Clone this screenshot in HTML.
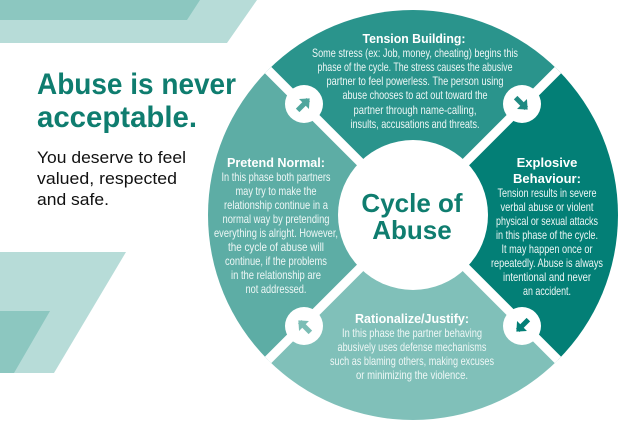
<!DOCTYPE html>
<html><head><meta charset="utf-8"><style>
html,body{margin:0;padding:0;background:#fff;width:624px;height:423px;overflow:hidden}
svg{display:block;position:absolute;left:0;top:0}
.b{font-family:"Liberation Sans",sans-serif;font-weight:bold}
.n{font-family:"Liberation Sans Narrow","Liberation Sans",sans-serif;fill:#eef7f6;font-size:12px}
</style></head><body>
<svg width="624" height="423" viewBox="0 0 624 423" xmlns="http://www.w3.org/2000/svg">
<polygon points="0,0 257,0 227,43 0,43" fill="#b7dcd8"/>
<polygon points="0,0 200,0 187,20 0,20" fill="#8cc7c0"/>
<polygon points="0,252 126,252 54,373 0,373" fill="#b7dcd8"/>
<polygon points="0,311 50,311 14,373 0,373" fill="#8cc7c0"/>
<text class="b" x="37" y="94" font-size="30" fill="#0f7d6f" textLength="199" lengthAdjust="spacingAndGlyphs">Abuse is never</text>
<text class="b" x="37" y="127" font-size="30" fill="#0f7d6f" textLength="160" lengthAdjust="spacingAndGlyphs">acceptable.</text>
<text x="37" y="163" font-family="Liberation Sans,sans-serif" font-size="17" fill="#111" textLength="149" lengthAdjust="spacingAndGlyphs">You deserve to feel</text>
<text x="37" y="184" font-family="Liberation Sans,sans-serif" font-size="17" fill="#111" textLength="140" lengthAdjust="spacingAndGlyphs">valued, respected</text>
<text x="37" y="205" font-family="Liberation Sans,sans-serif" font-size="17" fill="#111" textLength="72" lengthAdjust="spacingAndGlyphs">and safe.</text>
<g transform="translate(413,215)">
<clipPath id="c"><circle r="205"/></clipPath>
<g clip-path="url(#c)">
<polygon points="0,0 -300,-300 300,-300" fill="#2a948c"/>
<polygon points="0,0 300,-300 300,300" fill="#037f76"/>
<polygon points="0,0 300,300 -300,300" fill="#80c0b9"/>
<polygon points="0,0 -300,300 -300,-300" fill="#5dada5"/>
<line x1="-300" y1="-300" x2="300" y2="300" stroke="#fff" stroke-width="9"/>
<line x1="300" y1="-300" x2="-300" y2="300" stroke="#fff" stroke-width="9"/>
</g>
<circle r="75" fill="#fff"/>
<g fill="#fff">
<circle cx="-109" cy="-111" r="19"/><circle cx="109" cy="-111" r="19"/>
<circle cx="109" cy="111" r="19"/><circle cx="-109" cy="111" r="19"/>
</g>
<g stroke-width="5" fill="none">
<g transform="translate(-109,-111) rotate(-45)" stroke="#4fa69d"><line x1="-9" y1="0" x2="6" y2="0"/><polyline points="0,-7 8,0 0,7" fill="#4fa69d" stroke="none"/></g>
<g transform="translate(109,-111) rotate(45)" stroke="#1f8a82"><line x1="-9" y1="0" x2="6" y2="0"/><polyline points="0,-7 8,0 0,7" fill="#1f8a82" stroke="none"/></g>
<g transform="translate(109,111) rotate(135)" stroke="#037f76"><line x1="-9" y1="0" x2="6" y2="0"/><polyline points="0,-7 8,0 0,7" fill="#037f76" stroke="none"/></g>
<g transform="translate(-109,111) rotate(-135)" stroke="#7bbdb5"><line x1="-9" y1="0" x2="6" y2="0"/><polyline points="0,-7 8,0 0,7" fill="#7bbdb5" stroke="none"/></g>
</g>
</g>
<text class="b" x="412" y="212" text-anchor="middle" font-size="26" fill="#0f7d6f">Cycle of</text>
<text class="b" x="412" y="239" text-anchor="middle" font-size="26" fill="#0f7d6f">Abuse</text>
<g text-anchor="middle">
<text class="b" x="414" y="43" font-size="13" fill="#fff" textLength="103" lengthAdjust="spacingAndGlyphs">Tension Building:</text>
<text class="n" x="415" y="57" textLength="206" lengthAdjust="spacingAndGlyphs">Some stress (ex: Job, money, cheating) begins this</text>
<text class="n" x="415" y="71" textLength="195" lengthAdjust="spacingAndGlyphs">phase of the cycle. The stress causes the abusive</text>
<text class="n" x="415" y="85" textLength="177" lengthAdjust="spacingAndGlyphs">partner to feel powerless.  The person using</text>
<text class="n" x="415" y="99" textLength="145" lengthAdjust="spacingAndGlyphs">abuse chooses to act out toward the</text>
<text class="n" x="415" y="114" textLength="123" lengthAdjust="spacingAndGlyphs">partner through name-calling,</text>
<text class="n" x="415" y="128" textLength="129" lengthAdjust="spacingAndGlyphs">insults, accusations and threats.</text>
<text class="b" x="276" y="167" font-size="13" fill="#fff" textLength="98" lengthAdjust="spacingAndGlyphs">Pretend Normal:</text>
<text class="n" x="276" y="181" textLength="109" lengthAdjust="spacingAndGlyphs">In this phase both partners</text>
<text class="n" x="276" y="195" textLength="81" lengthAdjust="spacingAndGlyphs">may try to make the</text>
<text class="n" x="276" y="209" textLength="104" lengthAdjust="spacingAndGlyphs">relationship continue in a</text>
<text class="n" x="276" y="223" textLength="107" lengthAdjust="spacingAndGlyphs">normal way by pretending</text>
<text class="n" x="276" y="237" textLength="124" lengthAdjust="spacingAndGlyphs">everything is alright. However,</text>
<text class="n" x="276" y="251" textLength="96" lengthAdjust="spacingAndGlyphs">the cycle of abuse will</text>
<text class="n" x="276" y="265" textLength="102" lengthAdjust="spacingAndGlyphs">continue, if the problems</text>
<text class="n" x="276" y="279" textLength="90" lengthAdjust="spacingAndGlyphs">in the relationship are</text>
<text class="n" x="276" y="293" textLength="61" lengthAdjust="spacingAndGlyphs">not addressed.</text>
<text class="b" x="547" y="167" font-size="13" fill="#fff">Explosive</text>
<text class="b" x="547" y="183" font-size="13" fill="#fff">Behaviour:</text>
<text class="n" x="547" y="197" textLength="99" lengthAdjust="spacingAndGlyphs">Tension results in severe</text>
<text class="n" x="547" y="211" textLength="93" lengthAdjust="spacingAndGlyphs">verbal abuse or violent</text>
<text class="n" x="547" y="225" textLength="102" lengthAdjust="spacingAndGlyphs">physical or sexual attacks</text>
<text class="n" x="547" y="239" textLength="102" lengthAdjust="spacingAndGlyphs">in this phase of the cycle.</text>
<text class="n" x="547" y="253" textLength="91" lengthAdjust="spacingAndGlyphs">It may happen once or</text>
<text class="n" x="547" y="267" textLength="112" lengthAdjust="spacingAndGlyphs">repeatedly.  Abuse is always</text>
<text class="n" x="547" y="281" textLength="88" lengthAdjust="spacingAndGlyphs">intentional and never</text>
<text class="n" x="547" y="295" textLength="48" lengthAdjust="spacingAndGlyphs">an accident.</text>
<text class="b" x="412" y="323" font-size="13" fill="#fff" textLength="114" lengthAdjust="spacingAndGlyphs">Rationalize/Justify:</text>
<text class="n" x="412" y="337" textLength="140" lengthAdjust="spacingAndGlyphs">In this phase the partner behaving</text>
<text class="n" x="412" y="351" textLength="149" lengthAdjust="spacingAndGlyphs">abusively uses defense mechanisms</text>
<text class="n" x="412" y="365" textLength="164" lengthAdjust="spacingAndGlyphs">such as blaming others, making excuses</text>
<text class="n" x="412" y="379" textLength="112" lengthAdjust="spacingAndGlyphs">or minimizing the violence.</text>
</g>
</svg>
</body></html>
